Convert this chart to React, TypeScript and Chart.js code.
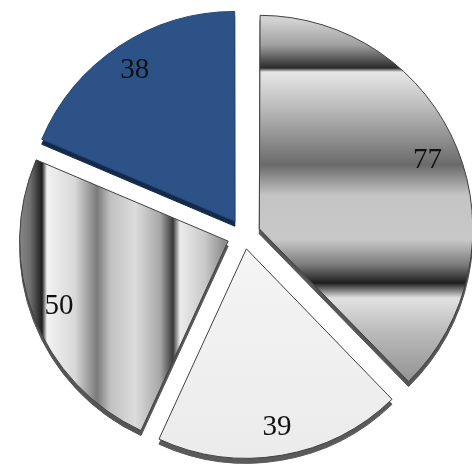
import React, { useEffect, useRef } from "react";
import { Chart, registerables } from "chart.js";

Chart.register(...registerables);

// ---- data ----
const categories = ["Category 1", "Category 2", "Category 3", "Category 4"];
const values = [77, 39, 50, 38];

// ---- styling ----
const explodePx = [16.5, 14, 17, 16.5]; // visual explode distance per slice
const CANVAS = 486;
const SHIFT_X = -1;
const SHIFT_Y = 8;
const DEPTH = 5;
const LABEL_R = 0.87;

const stops77: [number, string][] = [
  [20, "#d2d2d2"],
  [45, "#a0a0a0"],
  [68, "#2a2a2a"],
  [72, "#e6e6e6"],
  [110, "#b8b8b8"],
  [165, "#6a6a6a"],
  [195, "#c4c4c4"],
  [240, "#c8c8c8"],
  [265, "#7a7a7a"],
  [283, "#1e1e1e"],
  [298, "#e2e2e2"],
  [330, "#bcbcbc"],
  [390, "#8c8c8c"],
];
const stops50: [number, string][] = [
  [10, "#9a9a9a"],
  [30, "#707070"],
  [42, "#1e1e1e"],
  [47, "#f2f2f2"],
  [75, "#d8d8d8"],
  [97, "#7a7a7a"],
  [110, "#c0c0c0"],
  [135, "#dcdcdc"],
  [160, "#a8a8a8"],
  [173, "#3a3a3a"],
  [180, "#ececec"],
  [205, "#c8c8c8"],
  [225, "#8a8a8a"],
  [238, "#d0d0d0"],
];
const sideColors = ["#555555", "#5a5a5a", "#555555", "#132a4c"];
const borderColors = ["#404040", "#404040", "#404040", "#264773"];

function sliceShift(i: number): [number, number] {
  const total = values.reduce((a, b) => a + b, 0);
  let cum = 0;
  for (let j = 0; j < i; j++) cum += values[j];
  const mid = -Math.PI / 2 + ((cum + values[i] / 2) / total) * 2 * Math.PI;
  const d = explodePx[i];
  return [Math.cos(mid) * d, Math.sin(mid) * d];
}

function makeGrad(ctx: CanvasRenderingContext2D, stops: [number, string][], vertical: boolean, shift: number) {
  const a = stops[0][0];
  const b = stops[stops.length - 1][0];
  const g = vertical
    ? ctx.createLinearGradient(0, a + shift, 0, b + shift)
    : ctx.createLinearGradient(a + shift, 0, b + shift, 0);
  stops.forEach(([p, c]) => g.addColorStop((p - a) / (b - a), c));
  return g;
}

function bg(c: any) {
  const i = c.dataIndex;
  const ctx: CanvasRenderingContext2D = c.chart.ctx;
  const t = sliceShift(i);
  if (i === 0) return makeGrad(ctx, stops77, true, SHIFT_Y - t[1]);
  if (i === 2) return makeGrad(ctx, stops50, false, SHIFT_X - t[0]);
  if (i === 1) {
    const g = ctx.createLinearGradient(0, 250 + SHIFT_Y - t[1], 0, 460 + SHIFT_Y - t[1]);
    g.addColorStop(0, "#f4f4f4");
    g.addColorStop(1, "#ebebeb");
    return g;
  }
  return "#2d5287";
}

const extrudePlugin = {
  id: "extrude",
  beforeDatasetsDraw(chart: any) {
    const meta = chart.getDatasetMeta(0);
    const ctx = chart.ctx;
    meta.data.forEach((el: any, i: number) => {
      const o = el.options;
      ctx.save();
      ctx.translate(0, DEPTH);
      el.options = Object.assign({}, o, { backgroundColor: sideColors[i], borderColor: sideColors[i] });
      el.draw(ctx);
      el.options = o;
      ctx.restore();
    });
  },
};

const labelPlugin = {
  id: "labels",
  afterDatasetsDraw(chart: any) {
    const meta = chart.getDatasetMeta(0);
    const ctx = chart.ctx;
    ctx.save();
    ctx.font = '29px "Liberation Serif", "Times New Roman", serif';
    ctx.fillStyle = "#111";
    ctx.textAlign = "center";
    ctx.textBaseline = "middle";
    meta.data.forEach((el: any, i: number) => {
      const mid = (el.startAngle + el.endAngle) / 2;
      const off = (el.options.offset || 0) / 4;
      const r = off + LABEL_R * el.outerRadius;
      ctx.fillText(String(values[i]), el.x + Math.cos(mid) * r, el.y + Math.sin(mid) * r);
    });
    ctx.restore();
  },
};

export default function App() {
  const ref = useRef<HTMLCanvasElement>(null);
  useEffect(() => {
    if (!ref.current) return;
    const chart = new Chart(ref.current, {
      type: "pie",
      data: {
        labels: categories,
        datasets: [
          {
            data: values,
            backgroundColor: bg as any,
            borderColor: borderColors,
            borderWidth: 1,
            offset: explodePx.map((d) => d * 4),
            hoverOffset: 0,
          },
        ],
      },
      options: {
        responsive: false,
        devicePixelRatio: 1,
        animation: false,
        events: [],
        layout: { padding: 0 },
        plugins: { legend: { display: false }, tooltip: { enabled: false } },
      },
      plugins: [extrudePlugin, labelPlugin],
    });
    return () => chart.destroy();
  }, []);
  return (
    <div style={{ position: "fixed", left: 0, top: 0, width: 472, height: 468, overflow: "hidden", background: "#fff" }}>
      <canvas
        ref={ref}
        width={CANVAS}
        height={CANVAS}
        style={{ position: "absolute", left: -SHIFT_X, top: -SHIFT_Y, width: CANVAS, height: CANVAS }}
      />
    </div>
  );
}
